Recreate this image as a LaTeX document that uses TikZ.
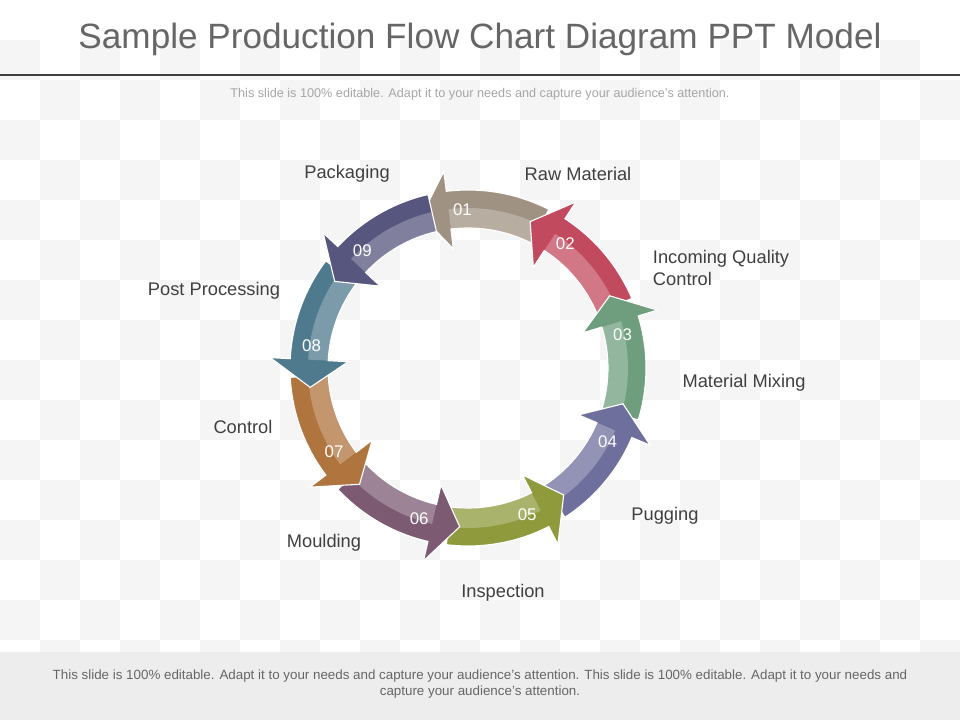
\documentclass[tikz,border=0pt]{standalone}
\usepackage{fontspec}
\setmainfont{Liberation Sans}
\usetikzlibrary{positioning}

\definecolor{segA}{HTML}{A09282}
\definecolor{segB}{HTML}{C24A5E}
\definecolor{segC}{HTML}{6E9E7E}
\definecolor{segD}{HTML}{6F6F9E}
\definecolor{segE}{HTML}{8E9A3C}
\definecolor{segF}{HTML}{7C5A72}
\definecolor{segG}{HTML}{B0743E}
\definecolor{segH}{HTML}{4F7A8E}
\definecolor{segI}{HTML}{56567E}

\tikzset{
  lbl/.style={font=\fontsize{13}{15}\selectfont, text=black!75},
  num/.style={font=\fontsize{12}{14}\selectfont, text=white},
}

\begin{document}
\begin{tikzpicture}[x=0.025cm,y=0.025cm]
\useasboundingbox (0,0) rectangle (960,720);

%background
\fill[white] (0,0) rectangle (960,720);
\foreach \i in {0,...,23}{
  \foreach \j in {0,...,16}{
    \pgfmathtruncatemacro{\parity}{mod(\i+\j,2)}
    \ifnum\parity=0
      \fill[black!4] (\i*40,\j*40) rectangle ++(40,40);
    \fi
  }
}
\fill[black!7] (0,0) rectangle (960,68);

%title
\node[font=\fontsize{25}{28}\selectfont, text=black!60] (title) at (480,681) {Sample Production Flow Chart Diagram PPT Model};
\draw[black!75, line width=1.2pt] (0,645) -- (960,645);
\node[font=\fontsize{9}{11}\selectfont, text=black!35] (sub) at (480,626) {This slide is 100\% editable. Adapt it to your needs and capture your audience's attention.};

%ring
\coordinate (c) at (468,352);
\foreach \t/\col [count=\k] in {95/segA,55/segB,15/segC,-25/segD,-65/segE,-105/segF,-145/segG,-185/segH,-225/segI}{
  \pgfmathsetmacro{\a}{\t-32}
  \pgfmathsetmacro{\b}{\t+2}
  \pgfmathsetmacro{\e}{\t+12}
  \begin{scope}[shift={(c)}]
    \fill[\col, draw=white, line width=0.8pt] (\a:178) arc[start angle=\a, end angle=\b, radius=178]
      -- (\b:198) -- (\e:159) -- (\b:120) -- (\b:140)
      arc[start angle=\b, end angle=\a, radius=140] -- cycle;
    \fill[white, opacity=0.25] (\a:160) arc[start angle=\a, end angle=\b, radius=160]
      -- (\b:140) arc[start angle=\b, end angle=\a, radius=140] -- cycle;
    \node[num] (n\k) at (\t-3:158) {0\k};
  \end{scope}
}

%labels
\node[lbl] (pack) at (347,546) {Packaging};
\node[lbl] (raw) at (578,546) {Raw Material};
\node[lbl, align=left, anchor=west] (iqc) at (648,452) {Incoming Quality\\Control};
\node[lbl] (mix) at (744,337) {Material Mixing};
\node[lbl] (pug) at (665,204) {Pugging};
\node[lbl] (insp) at (503,127) {Inspection};
\node[lbl] (mould) at (324,177) {Moulding};
\node[lbl] (ctrl) at (243,293) {Control};
\node[lbl] (post) at (214,429) {Post Processing};

%footer
\node[font=\fontsize{9.5}{12}\selectfont, text=black!60, align=center] (foot) at (480,36)
  {This slide is 100\% editable. Adapt it to your needs and capture your audience's attention. This slide is 100\% editable. Adapt it to your needs and\\capture your audience's attention.};
\end{tikzpicture}
\end{document}
